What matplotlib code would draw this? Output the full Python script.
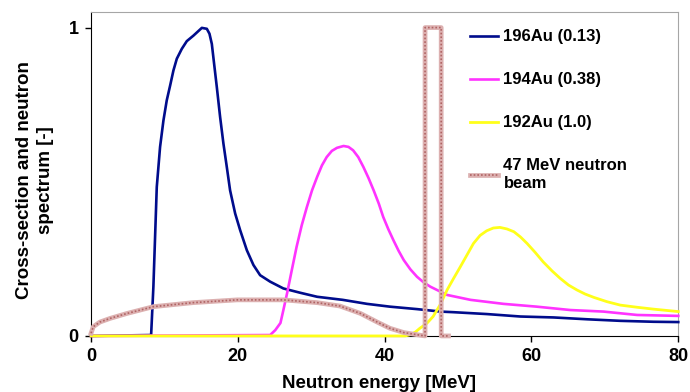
import matplotlib.pyplot as plt
from matplotlib.legend_handler import HandlerTuple

plt.rcParams['font.family'] = ['Liberation Sans', 'DejaVu Sans']
plt.rcParams['font.weight'] = 'bold'

# 196Au cross-section (normalised, max 0.13 b)
e_196 = [0, 8.18, 8.49, 8.95, 9.40, 9.86, 10.31, 10.77, 11.22, 11.68, 12.36, 13.04, 13.95,
         15.09, 15.77, 16.13, 16.45, 16.76, 17.13, 17.58, 18.03, 18.49, 18.94, 19.63, 20.31,
         21.22, 22.12, 23.03, 24.4, 26.2, 28.5, 30.8, 34.3, 37.6, 40.7, 44.4, 47.6,
         49.4, 53.9, 58.5, 63.0, 67.6, 72.1, 76.6, 80]
y_196 = [0, 0.003, 0.16, 0.483, 0.613, 0.699, 0.764, 0.812, 0.861, 0.899, 0.931, 0.956, 0.974,
         0.999, 0.996, 0.98, 0.947, 0.883, 0.807, 0.71, 0.624, 0.548, 0.472, 0.397, 0.343,
         0.278, 0.23, 0.197, 0.176, 0.154, 0.14, 0.127, 0.117, 0.104, 0.095, 0.087, 0.079,
         0.077, 0.071, 0.063, 0.060, 0.054, 0.049, 0.046, 0.045]

# 194Au cross-section (normalised, max 0.38 b)
e_194 = [0, 24.4, 25.1, 25.8, 26.2, 26.7, 27.35, 28.0, 28.7, 29.4, 30.1, 30.8, 31.45, 32.1,
         32.8, 33.5, 34.4, 35.07, 35.7, 36.4, 37.1, 37.8, 38.5, 39.2, 39.8, 40.5, 41.2, 41.9,
         42.6, 43.5, 44.4, 45.3, 46.2, 48.5, 51.7, 56.2, 60.7, 65.3, 69.8, 74.4, 80]
y_194 = [0, 0.003, 0.019, 0.042, 0.084, 0.138, 0.214, 0.289, 0.359, 0.418, 0.472, 0.516, 0.553, 0.58,
         0.60, 0.61, 0.616, 0.613, 0.602, 0.58, 0.548, 0.512, 0.472, 0.429, 0.386, 0.346, 0.31, 0.276,
         0.246, 0.216, 0.192, 0.174, 0.16, 0.133, 0.117, 0.104, 0.095, 0.084, 0.079, 0.068, 0.065]

# 192Au cross-section (normalised, max 1.0 b)
e_192 = [0, 42.8, 43.5, 44.2, 44.8, 45.75, 46.6, 47.6, 48.5, 49.4, 50.3, 51.2, 52.1, 53.0,
         53.9, 54.8, 55.7, 56.65, 57.6, 58.5, 59.4, 60.5, 61.6, 62.8, 63.9, 65.05, 66.2, 67.3,
         68.5, 70.3, 72.1, 74.4, 76.6, 80]
y_192 = [0, 0, 0.004, 0.013, 0.025, 0.041, 0.063, 0.103, 0.149, 0.187, 0.224, 0.262, 0.30, 0.326,
         0.341, 0.35, 0.352, 0.347, 0.338, 0.321, 0.30, 0.271, 0.24, 0.211, 0.187, 0.165, 0.149, 0.136,
         0.125, 0.111, 0.10, 0.093, 0.087, 0.079]

# 47 MeV quasi-monoenergetic neutron beam
e_beam = [0, 0.3, 1.2, 2.6, 4.9, 8.5, 13.9, 19.9, 26.2, 30.8, 33.9, 36.7, 38.9, 40.7,
          42.6, 44.4, 45.5, 45.5, 47.7, 47.7, 48.7]
y_beam = [0.009, 0.03, 0.045, 0.057, 0.073, 0.095, 0.108, 0.117, 0.117, 0.108, 0.097, 0.073, 0.046,
          0.025, 0.011, 0.004, 0, 1.0, 1.0, 0, 0]

fig = plt.figure(figsize=(6.9, 3.92), dpi=100)
ax = fig.add_axes([0.132, 0.143, 0.851, 0.826])

l196, = ax.plot(e_196, y_196, color='#000c8c', lw=1.9, zorder=3, clip_on=False)
l194, = ax.plot(e_194, y_194, color='#ff33ff', lw=1.9, zorder=3, clip_on=False)
l192, = ax.plot(e_192, y_192, color='#ffff1a', lw=2.0, zorder=3, clip_on=False)
# hatched look for the beam: pale base with a dotted darker line on top
b1, = ax.plot(e_beam, y_beam, color='#dcb0b0', lw=3.4, zorder=4, clip_on=False)
b2, = ax.plot(e_beam, y_beam, color='#b06464', lw=1.2, ls=(0, (1, 1.2)), zorder=4, clip_on=False)

ax.set_xlim(0, 80)
ax.set_ylim(0, 1.05)
ax.set_xticks([0, 20, 40, 60, 80])
ax.set_yticks([0, 1])
ax.tick_params(direction='out', length=4, width=1, labelsize=13, pad=5)
for lab in ax.get_xticklabels() + ax.get_yticklabels():
    lab.set_fontweight('bold')

ax.spines['left'].set_color('black')
ax.spines['bottom'].set_color('black')
ax.spines['top'].set_color('#a6a6a6')
ax.spines['right'].set_color('#a6a6a6')

ax.set_xlabel('Neutron energy [MeV]', fontsize=13.5, fontweight='bold')
ax.xaxis.set_label_coords(0.49, -0.12)
ax.set_ylabel('Cross-section and neutron\nspectrum [-]', fontsize=13.5,
              fontweight='bold', linespacing=1.3)
ax.yaxis.set_label_coords(-0.063, 0.48)

ax.legend([l196, l194, l192, (b1, b2)],
          ['196Au (0.13)', '194Au (0.38)', '192Au (1.0)', '47 MeV neutron\nbeam'],
          handler_map={tuple: HandlerTuple(ndivide=1, pad=0)},
          loc='upper left', bbox_to_anchor=(0.62, 0.993), frameon=False,
          prop={'size': 12, 'weight': 'bold'}, handlelength=1.7, handletextpad=0.3,
          labelspacing=1.68, borderaxespad=0.5)

fig.savefig('out.png', dpi=100)
